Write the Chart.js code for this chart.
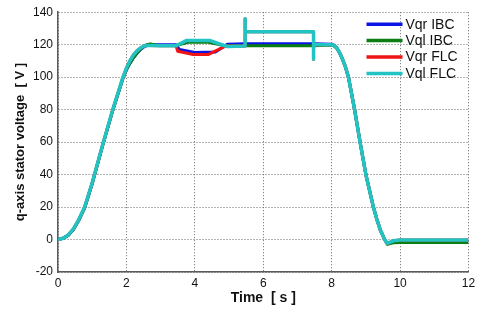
<html lang="en">
  <head>
    <meta charset="utf-8" />
    <title>q-axis stator voltage</title>
    <script src="https://cdn.jsdelivr.net/npm/chart.js@4.4.1/dist/chart.umd.min.js"></script>
    <style>
      html,
      body {
        padding: 0;
        margin: 0;
        background: #fff;
      }

      #chartDiv {
        width: 480px;
        height: 310px;
      }
    </style>
  </head>

  <body>
    <div id="chartDiv">
      <canvas id="voltage-chart" width="480" height="310"></canvas>
    </div>

    <script>
      // series names, as in the legend
      const seriesNames = ["Vqr IBC", "Vql IBC", "Vqr FLC", "Vql FLC"];
      const seriesColors = ["#0a14e6", "#0b7d12", "#f01414", "#22c3c3"];

      // tick values of both axes
      const timeTicks = [0, 2, 4, 6, 8, 10, 12];
      const voltTicks = [-20, 0, 20, 40, 60, 80, 100, 120, 140];

      // Vqr IBC
      const tVqrIBC = [0, 0.15, 0.3, 0.45, 0.6, 0.78, 1.0, 1.3, 1.6, 1.9, 2.0, 2.1, 2.2, 2.3, 2.4, 2.5, 2.6, 2.7, 3.0, 3.45, 3.55, 4.0, 4.6, 4.95, 5.47, 7.47, 8.0, 8.07, 8.15, 8.22, 8.3, 8.4, 8.49, 8.67, 8.83, 9.0, 9.22, 9.32, 9.42, 9.5, 9.55, 9.63, 9.8, 10, 12];
      const vVqrIBC = [0, 0.7, 2.6, 6.2, 11.5, 19.5, 34.5, 57.5, 79.5, 99.5, 104.5, 108.5, 111.8, 114.5, 116.8, 118.5, 119.6, 120, 120, 120, 117, 115.2, 115.5, 120.3, 120.6, 120.6, 120.3, 119.6, 118, 115.5, 112, 106.5, 100, 80, 60, 40, 20, 12.5, 6, 2.2, 0, -2.6, -1.4, -1, -1];

      // Vql IBC
      const tVqlIBC = [0, 0.15, 0.3, 0.45, 0.6, 0.78, 1.0, 1.3, 1.6, 1.9, 2.0, 2.1, 2.2, 2.3, 2.4, 2.5, 2.6, 2.7, 2.9, 3.45, 3.8, 4.4, 4.85, 5.47, 7.47, 8.0, 8.07, 8.15, 8.22, 8.3, 8.4, 8.49, 8.67, 8.83, 9.0, 9.22, 9.32, 9.42, 9.5, 9.55, 9.63, 9.8, 10, 12];
      const vVqlIBC = [0, 0.7, 2.6, 6.2, 11.5, 19.5, 34.5, 57.5, 79.5, 99.5, 104.5, 108.5, 111.8, 114.5, 117, 118.8, 120, 120.5, 119.7, 119.5, 121.5, 121.5, 119.5, 119.3, 119.3, 119.8, 119.2, 117.8, 115.3, 111.8, 106.3, 100, 80, 60, 40, 20, 12.5, 6, 2.2, 0, -3, -2, -1.8, -1.8];

      // Vqr FLC
      const tVqrFLC = [0, 0.15, 0.3, 0.45, 0.6, 0.78, 1.0, 1.3, 1.6, 1.9, 2.0, 2.1, 2.2, 2.3, 2.4, 2.5, 2.6, 2.7, 3.0, 3.45, 3.5, 3.95, 4.4, 4.88, 4.95, 5.47, 5.47, 5.47, 7.47, 7.47, 7.47, 8.0, 8.07, 8.15, 8.22, 8.3, 8.4, 8.49, 8.67, 8.83, 9.0, 9.22, 9.32, 9.42, 9.5, 9.55, 9.63, 9.8, 10, 12];
      const vVqrFLC = [0, 0.8, 2.8, 6.5, 12, 20, 35, 58, 80, 100, 105.5, 110, 113.5, 116, 117.8, 119, 119.5, 119.5, 119.3, 119.3, 116, 114, 114, 119, 119.2, 119.2, 136, 128, 128, 111, 120, 120, 119.4, 118, 115.5, 112, 106.5, 100, 80, 60, 40, 20, 12.5, 6, 2.2, 0, -2.4, -0.8, -0.3, -0.3];

      // Vql FLC
      const tVqlFLC = [0, 0.15, 0.3, 0.45, 0.6, 0.78, 1.0, 1.3, 1.6, 1.9, 2.0, 2.1, 2.2, 2.3, 2.4, 2.5, 2.6, 2.7, 3.0, 3.45, 3.75, 4.45, 4.85, 4.95, 5.47, 5.47, 5.47, 7.47, 7.47, 7.47, 8.0, 8.07, 8.15, 8.22, 8.3, 8.4, 8.49, 8.67, 8.83, 9.0, 9.22, 9.32, 9.42, 9.5, 9.55, 9.63, 9.8, 10, 12];
      const vVqlFLC = [0, 0.8, 2.8, 6.5, 12, 20, 35, 58, 80, 100, 105.5, 110, 113.5, 116, 117.8, 119, 119.5, 119.5, 119.3, 119.3, 122.5, 122.5, 119.5, 118.9, 119.2, 136, 128, 128, 111, 120, 120, 119.4, 118, 115.5, 112, 106.5, 100, 80, 60, 40, 20, 12.5, 6, 2.2, 0, -2.4, -0.8, -0.3, -0.3];

      const seriesTimes = [tVqrIBC, tVqlIBC, tVqrFLC, tVqlFLC];
      const seriesValues = [vVqrIBC, vVqlIBC, vVqrFLC, vVqlFLC];

      const toPoints = (ts, vs) => ts.map((t, i) => ({ x: t, y: vs[i] }));

      // legend drawn inside the plot, top right, like the matlab figure
      const insideLegend = {
        id: "insideLegend",
        afterDraw(chart) {
          const ctx = chart.ctx;
          const area = chart.chartArea;
          ctx.save();
          ctx.font = "14px 'Liberation Sans', Arial, sans-serif";
          ctx.textBaseline = "middle";
          ctx.fillStyle = "#111";
          chart.data.datasets.forEach((ds, i) => {
            const y = area.top + 12 + i * 16.4;
            ctx.strokeStyle = ds.borderColor;
            ctx.lineWidth = 3.5;
            ctx.beginPath();
            ctx.moveTo(area.right - 102, y);
            ctx.lineTo(area.right - 66, y);
            ctx.stroke();
            ctx.fillText(ds.label, area.right - 63, y + 0.5);
          });
          ctx.restore();
        }
      };

      const gridStyle = {
        color: "#6a6a6a",
        lineWidth: 1,
        drawTicks: false
      };

      const chart = new Chart(document.getElementById("voltage-chart"), {
        type: "line",
        data: {
          datasets: seriesNames.map((name, i) => ({
            label: name,
            data: toPoints(seriesTimes[i], seriesValues[i]),
            borderColor: seriesColors[i],
            backgroundColor: seriesColors[i],
            borderWidth: i === 3 ? 3.5 : 3,
            borderJoinStyle: "round",
            pointRadius: 0,
            tension: 0,
            order: 4 - i
          }))
        },
        options: {
          responsive: false,
          animation: false,
          layout: {
            padding: { left: 0, right: 11.5, top: 9.3, bottom: 0 }
          },
          scales: {
            x: {
              type: "linear",
              min: 0,
              max: 12,
              afterBuildTicks(scale) {
                scale.ticks = timeTicks.map((v) => ({ value: v }));
              },
              afterFit(scale) {
                scale.height = 38;
              },
              grid: gridStyle,
              border: { display: true, color: "#5a5a5a", width: 1.5, dash: [1, 2] },
              ticks: {
                padding: 4,
                color: "#111",
                font: { family: "'Liberation Sans', Arial, sans-serif", size: 12 }
              },
              title: {
                display: true,
                text: "Time  [ s ]",
                color: "#111",
                padding: { top: 0, bottom: 3 },
                font: { family: "'Liberation Sans', Arial, sans-serif", size: 14, weight: "bold" }
              }
            },
            y: {
              min: -20,
              max: 140,
              afterBuildTicks(scale) {
                scale.ticks = voltTicks.map((v) => ({ value: v }));
              },
              afterFit(scale) {
                scale.width = 58;
              },
              grid: gridStyle,
              border: { display: true, color: "#5a5a5a", width: 1.5, dash: [1, 2] },
              ticks: {
                padding: 5,
                color: "#111",
                font: { family: "'Liberation Sans', Arial, sans-serif", size: 12 }
              },
              title: {
                display: true,
                text: "q-axis stator voltage  [ V ]",
                color: "#111",
                padding: { top: 13, bottom: 0 },
                font: { family: "'Liberation Sans', Arial, sans-serif", size: 13, weight: "bold" }
              }
            }
          },
          plugins: {
            legend: { display: false },
            tooltip: { enabled: false }
          }
        },
        plugins: [insideLegend]
      });
    </script>
  </body>
</html>
